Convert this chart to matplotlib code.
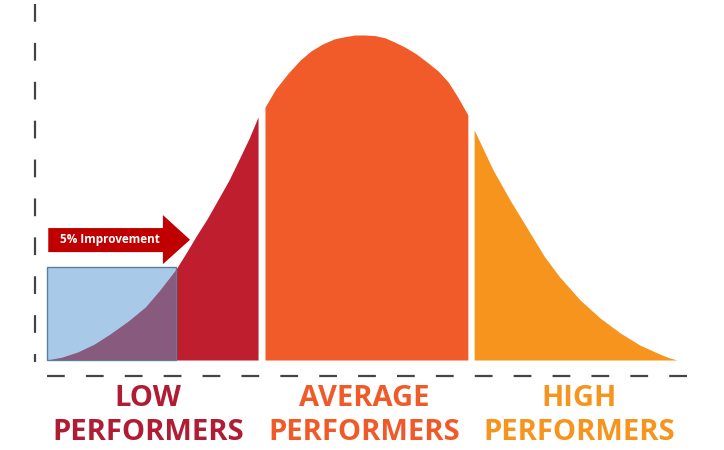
import matplotlib.pyplot as plt
from matplotlib.patches import Rectangle, Polygon

# performance score (0-100) vs relative share of staff
low_x = [0, 2.4, 4.9, 7.5, 10.0, 12.9, 15.6, 17.9, 20.5, 22.1, 23.7, 25.4,
         27.1, 28.9, 30.6, 32.1, 33.5]
low_y = [0, 0.9, 2.5, 4.9, 8.0, 12.0, 16.3, 21.5, 28.0, 33.0, 38.2, 43.4,
         49.2, 55.4, 62.2, 68.3, 74.8]
avg_x = [34.6, 36.3, 38.3, 40.2, 41.9, 43.7, 45.6, 47.3, 48.9, 50.5, 52.1,
         53.7, 55.2, 56.8, 58.6, 60.3, 62.1, 63.7, 65.2, 66.8]
avg_y = [77.8, 83.4, 88.3, 92.3, 95.1, 97.2, 98.8, 99.5, 100.0, 100.0, 99.8,
         99.1, 97.8, 96.3, 94.2, 91.7, 88.9, 85.5, 80.9, 75.4]
high_x = [67.8, 70.8, 73.5, 76.2, 79.0, 81.4, 84.6, 87.8, 91.0, 94.1, 97.3,
          98.6, 100]
high_y = [70.8, 58.5, 49.2, 40.6, 31.7, 25.5, 18.5, 12.9, 8.3, 4.6, 1.8,
          0.8, 0]

groups = ["LOW\nPERFORMERS", "AVERAGE\nPERFORMERS", "HIGH\nPERFORMERS"]
group_centers = [16.0, 50.3, 84.5]
group_colors = ["#B01C33", "#F05A28", "#F7941D"]

box_right = 20.5
box_top = 28.6
improvement = "5% Improvement"

fill_colors = ["#BE1E2D", "#F15A29", "#F7941D"]

fig = plt.figure(figsize=(7.24, 4.5), dpi=100)
ax = fig.add_axes([0, 0, 1, 1])
ax.set_xlim(-7.46, 107.46)
ax.set_ylim(-27.69, 110.77)
ax.axis("off")

ax.fill_between(low_x, low_y, 0, color=fill_colors[0], lw=0)
ax.fill_between(avg_x, avg_y, 0, color=fill_colors[1], lw=0)
ax.fill_between(high_x, high_y, 0, color=fill_colors[2], lw=0)

# blue box, the part of the curve inside it shows through in purple
ax.add_patch(Rectangle((0, 0), box_right, box_top, facecolor="#A9C9E8",
                       lw=0, zorder=3))
n_in = low_x.index(box_right) + 1
ax.fill_between(low_x[:n_in], low_y[:n_in], 0, color="#885A7E", lw=0, zorder=4)
ax.add_patch(Rectangle((0, 0), box_right, box_top, facecolor="none",
                       edgecolor="#5C7D9C", lw=1, zorder=5))

# arrow
arrow = [(0.2, 33.2), (18.4, 33.2), (18.4, 29.5), (22.7, 37.0),
         (18.4, 44.6), (18.4, 40.6), (0.2, 40.6)]
ax.add_patch(Polygon(arrow, closed=True, facecolor="#C00000", lw=0, zorder=3))
ax.text(10.0, 37.0, improvement, color="white", fontsize=8.5, fontweight="bold",
        family="Open Sans", ha="center", va="center", zorder=6)

# dashed axes
ax.plot([-1.9, -1.9], [109.5, -0.6], color="#444444", lw=1.6,
        dashes=(8, 9.5), solid_capstyle="butt")
ax.plot([0, 103.2], [-4.9, -4.9], color="#444444", lw=1.6,
        dashes=(8, 9.5), solid_capstyle="butt")

for label, cx, col in zip(groups, group_centers, group_colors):
    ax.text(cx, -17.1, label, color=col, fontsize=21, fontweight="bold",
            family="Open Sans", ha="center", va="center", linespacing=1.2)

fig.savefig("out.png", dpi=100)
